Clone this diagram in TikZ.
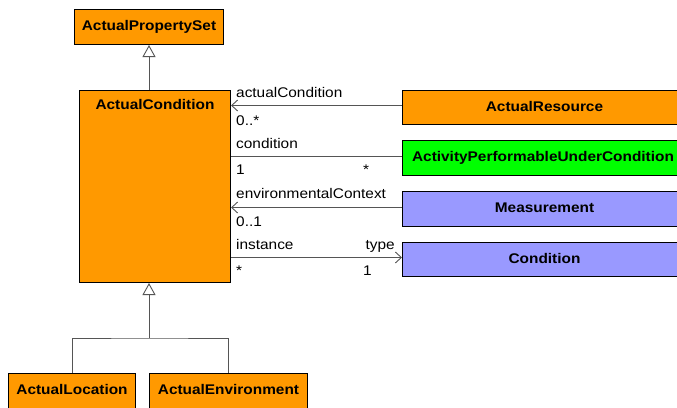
\documentclass[tikz,border=0pt]{standalone}
\usepackage{fontspec}
\setmainfont{Liberation Sans}[FakeStretch=1.1]
\usetikzlibrary{arrows.meta}
\definecolor{uorange}{HTML}{FF9900}
\definecolor{ugreen}{HTML}{00FF00}
\definecolor{ublue}{HTML}{9999FF}
\definecolor{ugray}{HTML}{555555}
\begin{document}
\begin{tikzpicture}[x=1pt,y=-1pt,
  cls/.style={draw=black, line width=1pt, inner sep=0pt, font=\fontsize{14}{16}\selectfont\bfseries, anchor=north west},
  conn/.style={draw=ugray, line width=0.9pt},
  opentip/.style={conn, -{Straight Barb[length=6pt,width=11pt,line width=0.9pt]}},
  inh/.style={conn, -{Triangle[open, fill=white, length=12pt, width=13pt, line width=0.9pt]}},
  lbl/.style={font=\fontsize{14}{16}\selectfont, inner sep=0pt}]
\useasboundingbox (0,0) rectangle (677,407);
\clip (0,0) rectangle (677,407);
\fill[white] (0,0) rectangle (677,407);

\node[cls, fill=uorange, minimum width=149pt, minimum height=35pt] (apset) at (74,9) {ActualPropertySet};
\node[cls, fill=uorange, minimum width=151pt, minimum height=192pt,
  label={[lbl, font=\fontsize{14}{16}\selectfont\bfseries, anchor=center, yshift=-14pt]north:ActualCondition}] (acond) at (79,90) {};
\node[cls, fill=uorange, minimum width=284pt, minimum height=34pt] (ares) at (402,90) {\raisebox{2pt}{ActualResource}};
\node[cls, fill=ugreen, minimum width=284pt, minimum height=35pt] (apuc) at (402,140) {\hspace*{-3pt}\raisebox{2pt}{ActivityPerformableUnderCondition}};
\node[cls, fill=ublue, minimum width=284pt, minimum height=35pt] (meas) at (402,191) {\raisebox{2pt}{Measurement}};
\node[cls, fill=ublue, minimum width=284pt, minimum height=34pt] (cond) at (402,242) {\raisebox{2pt}{Condition}};
\node[cls, fill=uorange, minimum width=127pt, minimum height=40pt] (aloc) at (8,373) {\raisebox{9pt}{ActualLocation}};
\node[cls, fill=uorange, minimum width=158pt, minimum height=40pt] (aenv) at (149,373) {\raisebox{9pt}{ActualEnvironment}};

% generalizations
\draw[inh] (acond.north -| apset.south) -- (apset.south);
\coordinate (j) at (149,338);
\draw[conn] (aloc.north) |- (j) -| (aenv.north);
\draw[inh] (j) -- (j |- acond.south);

% associations
\draw[opentip] ([yshift=2pt]ares.west) -- ([yshift=2pt]ares.west -| acond.east);
\draw[conn] ([yshift=1.5pt]apuc.west) -- ([yshift=1.5pt]apuc.west -| acond.east);
\draw[opentip] ([yshift=1.5pt]meas.west) -- ([yshift=1.5pt]meas.west -| acond.east);
\draw[opentip] ([yshift=2pt]cond.west -| acond.east) -- ([yshift=2pt]cond.west);

% labels
\node[lbl, anchor=base west] (l1) at (236,97) {actualCondition};
\node[lbl, anchor=base west] (l2) at (236,125) {0..*};
\node[lbl, anchor=base west] (l3) at (236,148) {condition};
\node[lbl, anchor=base west] (l4) at (236,174) {1};
\node[lbl, anchor=base west] (l5) at (363,174) {*};
\node[lbl, anchor=base west] (l6) at (236,198) {environmentalContext};
\node[lbl, anchor=base west] (l7) at (236,226) {0..1};
\node[lbl, anchor=base west] (l8) at (236,249) {instance};
\node[lbl, anchor=base east] (l9) at (395,249) {type};
\node[lbl, anchor=base west] (l10) at (236,275) {*};
\node[lbl, anchor=base west] (l11) at (363,275) {1};
\end{tikzpicture}
\end{document}
